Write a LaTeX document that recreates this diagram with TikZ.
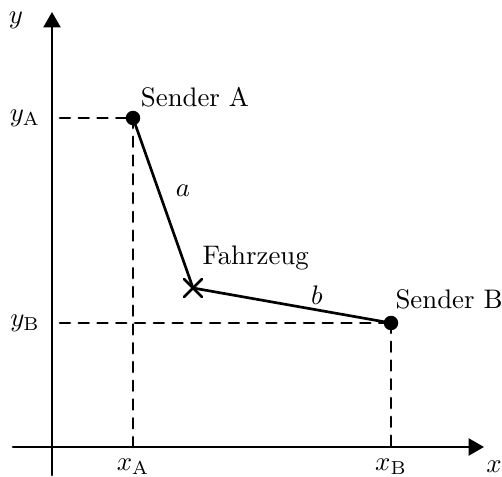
\documentclass[tikz,border=0pt]{standalone}
\usepackage{amsmath}
\usepackage{tikz}
\usetikzlibrary{arrows.meta,shapes.misc}

\tikzset{
  linie/.style={line width=1pt},
  achse/.style={linie, -{Triangle[length=0.2cm, width=0.22cm]}},
  hilfslinie/.style={linie, dash pattern=on 3.7pt off 3.3pt},
  sender/.style={circle, fill, inner sep=0pt, minimum size=0.19cm},
  fahrzeug/.style={cross out, draw, linie, inner sep=0pt, minimum size=0.2cm}
}

\begin{document}
\begin{tikzpicture}[x=0.0131cm, y=-0.0131cm, line cap=round, line join=round]
    \useasboundingbox (0,0) rectangle (502,477);

    % --- axes ---
    \coordinate (xanf) at (13,447);
    \coordinate (xend) at (484,447);
    \coordinate (yanf) at (52,475);
    \coordinate (yend) at (52,12);
    \draw[achse] (xanf)--(xend);
    \draw[achse] (yanf)--(yend);
    \node (xlab) at (494,467) {$x$};
    \node (ylab) at (16,20) {$y$};

    % --- points ---
    \node[sender] (A) at (133,118) {};
    \node[sender] (B) at (391,323) {};
    \node[fahrzeug] (F) at (193,288) {};

    % foot points on the axes
    \coordinate (Ax) at (133,447);
    \coordinate (Ay) at (60,118);
    \coordinate (Bx) at (391,447);
    \coordinate (By) at (60,323);

    % dashed helper lines
    \draw[hilfslinie] (Ay)--(A.center);
    \draw[hilfslinie] (A.center)--(Ax);
    \draw[hilfslinie] (By)--(B.center);
    \draw[hilfslinie] (B.center)--(Bx);

    % distances
    \draw[linie] (A.center)--(F.center);
    \draw[linie] (F.center)--(B.center);
    \node (a) at (183,191) {$a$};
    \node (b) at (317,295) {$b$};

    % labels
    \node (sA) at (195,97) {Sender A};
    \node[anchor=west, inner sep=0pt] (sB) at (395,299) {Sender B};
    \node[anchor=west, inner sep=0pt] (fz) at (202,258) {Fahrzeug};
    \node (yA) at (25,118) {$y_{\mathrm{A}}$};
    \node (yB) at (25,323) {$y_{\mathrm{B}}$};
    \node (xA) at (133,467) {$x_{\mathrm{A}}$};
    \node (xB) at (391,467) {$x_{\mathrm{B}}$};
\end{tikzpicture}
\end{document}
